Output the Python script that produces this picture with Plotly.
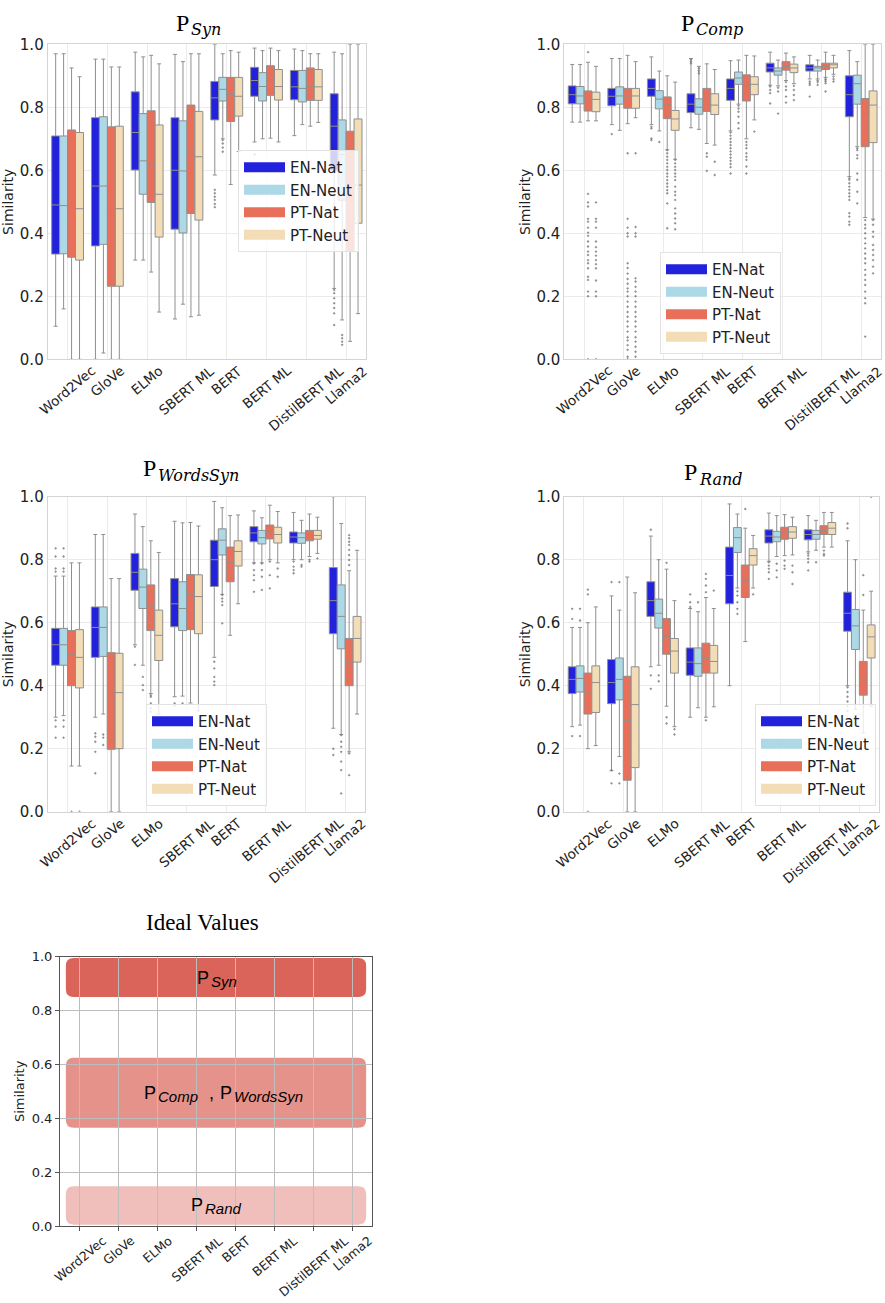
import plotly.graph_objects as go

# ---------------- data ----------------
CATEGORIES = ["Word2Vec", "GloVe", "ELMo", "SBERT ML", "BERT", "BERT ML", "DistilBERT ML", "Llama2"]
SERIES = ["EN-Nat", "EN-Neut", "PT-Nat", "PT-Neut"]
COLORS = ["#2222dd", "#add8e6", "#e8705a", "#f2ddb6"]
Y_TICKS = [0.0, 0.2, 0.4, 0.6, 0.8, 1.0]

# rows = series (EN-Nat, EN-Neut, PT-Nat, PT-Neut), columns = categories
SYN_LOW = [[0.105, 0.0, 0.315, 0.128, 0.585, 0.69, 0.71, 0.225],
           [0.16, 0.02, 0.315, 0.175, 0.70, 0.70, 0.745, 0.125],
           [0.0, 0.0, 0.277, 0.135, 0.555, 0.702, 0.74, 0.057],
           [0.0, 0.0, 0.15, 0.14, 0.66, 0.69, 0.752, 0.145]]
SYN_Q1 = [[0.334, 0.36, 0.601, 0.413, 0.76, 0.835, 0.824, 0.60],
          [0.335, 0.365, 0.524, 0.401, 0.82, 0.82, 0.817, 0.505],
          [0.324, 0.232, 0.498, 0.463, 0.755, 0.838, 0.822, 0.343],
          [0.315, 0.232, 0.388, 0.442, 0.772, 0.823, 0.822, 0.432]]
SYN_MED = [[0.49, 0.55, 0.72, 0.60, 0.83, 0.885, 0.865, 0.74],
           [0.488, 0.55, 0.63, 0.598, 0.857, 0.866, 0.86, 0.65],
           [0.495, 0.457, 0.62, 0.665, 0.84, 0.882, 0.865, 0.55],
           [0.478, 0.478, 0.524, 0.643, 0.835, 0.866, 0.865, 0.553]]
SYN_Q3 = [[0.709, 0.767, 0.849, 0.767, 0.882, 0.927, 0.917, 0.843],
          [0.709, 0.77, 0.78, 0.757, 0.895, 0.91, 0.917, 0.76],
          [0.728, 0.738, 0.789, 0.807, 0.895, 0.932, 0.925, 0.724],
          [0.72, 0.74, 0.744, 0.787, 0.895, 0.92, 0.92, 0.763]]
SYN_HIGH = [[0.97, 0.953, 0.975, 0.968, 1.0, 0.988, 0.985, 0.975],
            [0.97, 0.953, 0.96, 0.945, 0.97, 0.98, 0.98, 0.97],
            [0.925, 0.928, 0.965, 0.97, 0.98, 0.988, 0.97, 1.0],
            [0.897, 0.928, 0.938, 0.97, 0.975, 0.98, 0.97, 1.0]]
# (category index, series index, outlier values)
SYN_OUT = [(4, 0, [0.538, 0.527, 0.516, 0.506, 0.493, 0.483]),
           (4, 1, [0.696, 0.685, 0.672, 0.659]),
           (5, 0, [0.65]),
           (7, 0, [0.22, 0.21, 0.194, 0.178, 0.163, 0.146, 0.109]),
           (7, 1, [0.077, 0.067, 0.056, 0.046])]

COMP_LOW = [[0.753, 0.745, 0.745, 0.735, 0.725, 0.87, 0.89, 0.58],
            [0.753, 0.727, 0.725, 0.73, 0.81, 0.868, 0.89, 0.675],
            [0.757, 0.748, 0.665, 0.685, 0.70, 0.885, 0.895, 0.45],
            [0.757, 0.767, 0.635, 0.68, 0.76, 0.875, 0.905, 0.445]]
COMP_Q1 = [[0.811, 0.805, 0.835, 0.783, 0.822, 0.912, 0.915, 0.77],
           [0.811, 0.81, 0.795, 0.778, 0.873, 0.902, 0.915, 0.81],
           [0.788, 0.797, 0.764, 0.787, 0.82, 0.918, 0.92, 0.675],
           [0.786, 0.797, 0.727, 0.777, 0.84, 0.91, 0.925, 0.688]]
COMP_MED = [[0.84, 0.835, 0.86, 0.81, 0.86, 0.925, 0.925, 0.84],
            [0.836, 0.836, 0.826, 0.80, 0.893, 0.915, 0.925, 0.875],
            [0.825, 0.836, 0.807, 0.825, 0.87, 0.93, 0.93, 0.78],
            [0.825, 0.836, 0.763, 0.807, 0.873, 0.925, 0.935, 0.807]]
COMP_Q3 = [[0.868, 0.86, 0.89, 0.843, 0.89, 0.94, 0.935, 0.90],
           [0.866, 0.865, 0.853, 0.827, 0.912, 0.925, 0.93, 0.902],
           [0.852, 0.86, 0.833, 0.86, 0.903, 0.945, 0.94, 0.828],
           [0.848, 0.86, 0.79, 0.843, 0.897, 0.937, 0.94, 0.852]]
COMP_HIGH = [[0.936, 0.955, 0.96, 0.955, 0.948, 0.975, 0.965, 0.98],
             [0.936, 0.955, 0.915, 0.93, 0.95, 0.95, 0.95, 0.945],
             [0.943, 0.965, 0.90, 0.938, 0.965, 0.972, 0.975, 1.0],
             [0.93, 0.945, 0.88, 0.92, 0.963, 0.96, 0.965, 1.0]]
COMP_OUT = [(0, 2, [0.975, 0.525, 0.498, 0.485, 0.446, 0.437, 0.418, 0.402, 0.392, 0.374, 0.358, 0.342,
                    0.331, 0.315, 0.305, 0.289, 0.262, 0.252, 0.215, 0.2, 0.0]),
            (0, 3, [0.498, 0.446, 0.437, 0.418, 0.374, 0.356, 0.342, 0.329, 0.315, 0.302, 0.289, 0.25,
                    0.215, 0.2, 0.0]),
            (1, 0, [0.715]),
            (1, 2, [0.654, 0.446, 0.418, 0.40, 0.39, 0.305, 0.29, 0.272, 0.255, 0.24, 0.225, 0.215, 0.2,
                    0.183, 0.167, 0.15, 0.135, 0.12, 0.104, 0.088, 0.07, 0.06, 0.045, 0.03, 0.008, 0.0]),
            (1, 3, [0.654, 0.42, 0.40, 0.39, 0.257, 0.247, 0.23, 0.215, 0.2, 0.183, 0.167, 0.15, 0.135,
                    0.12, 0.104, 0.088, 0.07, 0.056, 0.04, 0.024, 0.008]),
            (2, 0, [0.738, 0.733, 0.701, 0.696]),
            (2, 1, [0.69]),
            (2, 2, [0.664, 0.654, 0.643, 0.633, 0.622, 0.611, 0.601, 0.59, 0.58, 0.569, 0.558, 0.548,
                    0.537, 0.527, 0.495, 0.416]),
            (2, 3, [0.633, 0.622, 0.611, 0.601, 0.59, 0.58, 0.569, 0.548, 0.532, 0.521, 0.506, 0.479,
                    0.463, 0.447, 0.432, 0.413]),
            (3, 0, [0.952, 0.946, 0.94]),
            (3, 1, [0.924, 0.916, 0.908]),
            (3, 2, [0.654, 0.643, 0.598]),
            (3, 3, [0.627, 0.585]),
            (4, 0, [0.72, 0.71, 0.70, 0.69, 0.68, 0.67, 0.66, 0.65, 0.64, 0.63, 0.62, 0.61, 0.59]),
            (4, 1, [0.805, 0.796, 0.786, 0.77, 0.75, 0.733]),
            (4, 2, [0.69, 0.68, 0.67, 0.654, 0.643, 0.633, 0.612, 0.59]),
            (4, 3, [0.723]),
            (5, 0, [0.866, 0.855, 0.845, 0.812]),
            (5, 1, [0.862, 0.85, 0.78]),
            (5, 2, [0.88, 0.866, 0.855, 0.834, 0.815]),
            (5, 3, [0.868, 0.855, 0.839, 0.823]),
            (6, 0, [0.882, 0.876, 0.871, 0.834]),
            (6, 1, [0.885, 0.88, 0.871]),
            (6, 2, [0.89, 0.887, 0.882, 0.876, 0.85]),
            (6, 3, [0.898, 0.89, 0.882]),
            (7, 0, [0.575, 0.57, 0.559, 0.548, 0.538, 0.527, 0.517, 0.506, 0.464, 0.453, 0.437, 0.427]),
            (7, 1, [0.67, 0.664, 0.648, 0.638, 0.59, 0.57, 0.532, 0.495]),
            (7, 2, [0.442, 0.427, 0.416, 0.4, 0.384, 0.368, 0.352, 0.336, 0.32, 0.305, 0.284, 0.268,
                    0.252, 0.236, 0.215, 0.194, 0.178, 0.072]),
            (7, 3, [0.442, 0.427, 0.405, 0.389, 0.363, 0.347, 0.331, 0.315, 0.294, 0.273])]

WSYN_LOW = [[0.30, 0.30, 0.53, 0.365, 0.49, 0.79, 0.80, 0.265],
            [0.305, 0.31, 0.465, 0.367, 0.69, 0.79, 0.80, 0.245],
            [0.145, 0.0, 0.375, 0.345, 0.56, 0.80, 0.81, 0.19],
            [0.145, 0.0, 0.31, 0.32, 0.66, 0.79, 0.82, 0.31]]
WSYN_Q1 = [[0.465, 0.49, 0.703, 0.587, 0.715, 0.857, 0.853, 0.565],
           [0.465, 0.493, 0.645, 0.575, 0.815, 0.85, 0.852, 0.517],
           [0.40, 0.198, 0.575, 0.578, 0.73, 0.866, 0.86, 0.40],
           [0.393, 0.20, 0.48, 0.565, 0.78, 0.853, 0.865, 0.475]]
WSYN_MED = [[0.53, 0.585, 0.76, 0.66, 0.80, 0.885, 0.872, 0.67],
            [0.53, 0.585, 0.713, 0.645, 0.862, 0.87, 0.87, 0.62],
            [0.50, 0.376, 0.65, 0.69, 0.79, 0.888, 0.877, 0.475],
            [0.49, 0.378, 0.56, 0.683, 0.826, 0.88, 0.877, 0.55]]
WSYN_Q3 = [[0.582, 0.65, 0.82, 0.74, 0.862, 0.905, 0.888, 0.775],
           [0.582, 0.65, 0.77, 0.73, 0.898, 0.893, 0.885, 0.72],
           [0.575, 0.505, 0.72, 0.753, 0.84, 0.91, 0.893, 0.55],
           [0.578, 0.503, 0.64, 0.752, 0.86, 0.903, 0.893, 0.62]]
WSYN_HIGH = [[0.748, 0.88, 0.945, 0.922, 0.985, 0.955, 0.95, 1.0],
             [0.748, 0.88, 0.905, 0.917, 0.965, 0.933, 0.925, 0.915],
             [0.79, 0.74, 0.86, 0.918, 0.94, 0.973, 0.945, 0.765],
             [0.79, 0.74, 0.823, 0.907, 0.942, 0.953, 0.935, 0.83]]
WSYN_OUT = [(0, 0, [0.836, 0.81, 0.772, 0.762, 0.29, 0.27, 0.235]),
            (0, 1, [0.836, 0.81, 0.772, 0.762, 0.29, 0.27, 0.235]),
            (0, 2, [0.0]),
            (0, 3, [0.0]),
            (1, 0, [0.249, 0.238, 0.222, 0.19, 0.122]),
            (1, 1, [0.245, 0.235, 0.212]),
            (2, 0, [0.524, 0.466]),
            (2, 1, [0.428, 0.402, 0.386]),
            (2, 2, [0.37, 0.365, 0.344, 0.328, 0.317]),
            (3, 0, [0.344, 0.336]),
            (3, 1, [0.344]),
            (4, 0, [0.476, 0.455, 0.428, 0.413, 0.402]),
            (4, 1, [0.688, 0.677, 0.667, 0.656, 0.598]),
            (5, 0, [0.788, 0.767, 0.751, 0.735, 0.698]),
            (5, 1, [0.788, 0.767, 0.746, 0.704]),
            (5, 2, [0.794, 0.751, 0.709]),
            (5, 3, [0.772, 0.746]),
            (6, 0, [0.794, 0.778, 0.767, 0.757]),
            (6, 1, [0.783, 0.778]),
            (6, 2, [0.80, 0.794]),
            (6, 3, [0.804]),
            (7, 0, [0.20, 0.18]),
            (7, 1, [0.243, 0.222, 0.206, 0.19, 0.159, 0.132, 0.058]),
            (7, 2, [0.878, 0.868, 0.857, 0.847, 0.831, 0.815, 0.799, 0.783, 0.185, 0.116])]

RAND_LOW = [[0.27, 0.13, 0.46, 0.30, 0.40, 0.795, 0.825, 0.40],
            [0.275, 0.175, 0.465, 0.33, 0.71, 0.81, 0.83, 0.325],
            [0.20, 0.0, 0.335, 0.30, 0.54, 0.813, 0.84, 0.25],
            [0.21, 0.0, 0.27, 0.333, 0.71, 0.815, 0.84, 0.335]]
RAND_Q1 = [[0.375, 0.343, 0.62, 0.433, 0.66, 0.853, 0.863, 0.573],
           [0.38, 0.355, 0.583, 0.43, 0.823, 0.857, 0.865, 0.515],
           [0.31, 0.10, 0.50, 0.44, 0.68, 0.865, 0.88, 0.37],
           [0.315, 0.14, 0.44, 0.44, 0.783, 0.868, 0.88, 0.488]]
RAND_MED = [[0.42, 0.41, 0.67, 0.475, 0.75, 0.875, 0.88, 0.63],
            [0.423, 0.42, 0.63, 0.47, 0.87, 0.872, 0.88, 0.59],
            [0.38, 0.29, 0.557, 0.487, 0.735, 0.885, 0.893, 0.425],
            [0.41, 0.34, 0.51, 0.477, 0.813, 0.888, 0.90, 0.555]]
RAND_Q3 = [[0.46, 0.483, 0.73, 0.52, 0.84, 0.895, 0.895, 0.697],
           [0.463, 0.488, 0.675, 0.52, 0.902, 0.89, 0.893, 0.642],
           [0.44, 0.43, 0.613, 0.535, 0.783, 0.903, 0.908, 0.477],
           [0.463, 0.46, 0.55, 0.528, 0.835, 0.905, 0.918, 0.593]]
RAND_HIGH = [[0.585, 0.685, 0.875, 0.645, 0.977, 0.948, 0.94, 0.86],
             [0.585, 0.64, 0.80, 0.635, 0.945, 0.94, 0.925, 0.80],
             [0.60, 0.745, 0.77, 0.68, 0.90, 0.943, 0.95, 0.64],
             [0.65, 0.695, 0.67, 0.645, 0.877, 0.935, 0.95, 0.70]]
RAND_OUT = [(0, 0, [0.644, 0.612, 0.24]),
            (0, 1, [0.644, 0.607, 0.24]),
            (0, 2, [0.705, 0.69, 0.0]),
            (1, 0, [0.729, 0.132, 0.09]),
            (1, 1, [0.729, 0.121, 0.09]),
            (2, 0, [0.895, 0.433, 0.39]),
            (2, 1, [0.433, 0.414]),
            (2, 2, [0.79, 0.30, 0.28]),
            (2, 3, [0.262, 0.245]),
            (3, 0, [0.69, 0.665, 0.65]),
            (3, 1, [0.665]),
            (3, 2, [0.755, 0.739, 0.718, 0.697, 0.29]),
            (3, 3, [0.702]),
            (4, 1, [0.70, 0.686, 0.665, 0.644, 0.628]),
            (4, 2, [0.961]),
            (4, 3, [0.69]),
            (5, 0, [0.792, 0.781, 0.771, 0.76, 0.739]),
            (5, 1, [0.787, 0.766, 0.744]),
            (5, 2, [0.797, 0.781, 0.771]),
            (5, 3, [0.781, 0.76, 0.723]),
            (6, 0, [0.82, 0.813, 0.803, 0.792, 0.766]),
            (6, 1, [0.792]),
            (6, 2, [0.829, 0.818, 0.813]),
            (7, 0, [0.915, 0.90, 0.395, 0.38, 0.365, 0.35, 0.335, 0.32]),
            (7, 2, [0.751, 0.688]),
            (7, 3, [1.0])]

PANEL_SUBSCRIPTS = ["Syn", "Comp", "WordsSyn", "Rand"]
IDEAL_SUBSCRIPTS = [["Syn"], ["Comp", "WordsSyn"], ["Rand"]]
IDEAL_LOW = [0.85, 0.365, 0.005]
IDEAL_HIGH = [0.995, 0.625, 0.148]
IDEAL_ALPHA = [0.85, 0.6, 0.35]

# ---------------- figure ----------------
W, H = 885, 1303
OFFSETS = [-0.3, -0.1, 0.1, 0.3]
BOX_W = 0.2
SANS = "DejaVu Sans"
SERIF = "Liberation Serif"


def px_x(p):
    return p / W


def px_y(p):
    return 1 - p / H


PANELS = [
    dict(low=SYN_LOW, q1=SYN_Q1, med=SYN_MED, q3=SYN_Q3, high=SYN_HIGH,
         out=SYN_OUT, n="", leg="legend", dx=(47.7, 366), dy=(44.3, 359.3), t=(190, 22.5),
         lg=(238, 150)),
    dict(low=COMP_LOW, q1=COMP_Q1, med=COMP_MED, q3=COMP_Q3, high=COMP_HIGH,
         out=COMP_OUT, n="2", leg="legend2", dx=(564.3, 881), dy=(44.3, 359.3), t=(695, 22.5),
         lg=(660, 252)),
    dict(low=WSYN_LOW, q1=WSYN_Q1, med=WSYN_MED, q3=WSYN_Q3,
         high=WSYN_HIGH, out=WSYN_OUT, n="3", leg="legend3", dx=(47.7, 365), dy=(496.7, 811.7),
         t=(157, 468), lg=(146, 704)),
    dict(low=RAND_LOW, q1=RAND_Q1, med=RAND_MED, q3=RAND_Q3,
         high=RAND_HIGH, out=RAND_OUT, n="4", leg="legend4", dx=(564.3, 879), dy=(496.7, 811.7),
         t=(698, 472), lg=(755, 704)),
]

fig = go.Figure()
layout = dict(width=W, height=H, margin=dict(l=0, r=0, t=0, b=0, autoexpand=False),
              paper_bgcolor="white", plot_bgcolor="white", boxmode="overlay",
              font=dict(family=SANS, color="#222222"), showlegend=True)
annotations = []
shapes = []


def category_labels(xa, ya, size, shift, angle):
    for i, name in enumerate(CATEGORIES):
        annotations.append(dict(text=name, x=i, y=0, xref=xa, yref=ya + " domain", showarrow=False,
                                textangle=angle, xanchor="center", yanchor="top", yshift=shift,
                                borderpad=0, font=dict(family=SANS, size=size, color="#222222")))


def p_with_sub(x_join, y, yref, sub, p_font, sub_font, sub_dy):
    """'P' ending at x_join (paper), italic subscript starting there."""
    annotations.append(dict(text="P", x=x_join, y=y, xref="paper", yref=yref, showarrow=False,
                            xanchor="right", yanchor="middle", borderpad=0, font=p_font))
    annotations.append(dict(text="<i>%s</i>" % sub, x=x_join, y=y, xref="paper", yref=yref,
                            showarrow=False, xanchor="left", yanchor="middle", borderpad=0,
                            yshift=-sub_dy, font=sub_font))


for k, p in enumerate(PANELS):
    n = p["n"]
    xa, ya = "x" + n, "y" + n
    for s in range(4):
        fig.add_trace(go.Box(
            x=[c + OFFSETS[s] for c in range(len(CATEGORIES))],
            q1=p["q1"][s], median=p["med"][s], q3=p["q3"][s],
            lowerfence=p["low"][s], upperfence=p["high"][s],
            orientation="v", width=BOX_W, whiskerwidth=0.5, boxpoints=False,
            fillcolor=COLORS[s], line=dict(color="#8f8f8f", width=1),
            showlegend=False, hoverinfo="skip", xaxis=xa, yaxis=ya))
    ox, oy = [], []
    for c, s, vals in p["out"]:
        for v in vals:
            ox.append(c + OFFSETS[s])
            oy.append(v)
    fig.add_trace(go.Scatter(x=ox, y=oy, mode="markers",
                             marker=dict(size=2.2, color="rgba(120,120,120,0.8)", symbol="diamond"),
                             showlegend=False, hoverinfo="skip", xaxis=xa, yaxis=ya, cliponaxis=True))
    for s in range(4):
        fig.add_trace(go.Scatter(x=[None], y=[None], mode="lines", name=SERIES[s],
                                 line=dict(color=COLORS[s], width=10), legend=p["leg"],
                                 xaxis=xa, yaxis=ya, hoverinfo="skip"))
    layout["xaxis" + n] = dict(domain=[px_x(p["dx"][0]), px_x(p["dx"][1])], anchor=ya, automargin=False,
                               range=[-0.5, 7.5], tickmode="array", tickvals=list(range(len(CATEGORIES))),
                               showticklabels=False,
                               showgrid=True, gridcolor="#ebebeb", gridwidth=1, zeroline=False,
                               showline=True, mirror=True, linecolor="#d4d4d4", ticks="")
    layout["yaxis" + n] = dict(domain=[px_y(p["dy"][1]), px_y(p["dy"][0])], anchor=xa, automargin=False,
                               range=[0, 1.0], tickmode="array", tickvals=Y_TICKS,
                               ticktext=["%.1f" % v for v in Y_TICKS], tickfont=dict(size=15, family=SANS),
                               showgrid=True, gridcolor="#ebebeb", zeroline=False,
                               showline=True, mirror=True, linecolor="#d4d4d4", ticks="",
                               title=dict(text="Similarity", font=dict(size=14, family=SANS), standoff=2))
    layout[p["leg"]] = dict(x=px_x(p["lg"][0]), y=px_y(p["lg"][1]), xanchor="left", yanchor="top",
                            bgcolor="rgba(255,255,255,0.8)", bordercolor="#e2e2e2", borderwidth=1,
                            font=dict(size=15, family=SANS, color="#222222"), itemwidth=41,
                            tracegroupgap=0)
    p_with_sub(px_x(p["t"][0]), px_y(p["t"][1]), "paper", PANEL_SUBSCRIPTS[k],
               dict(family=SERIF, size=24, color="black"),
               dict(family="DejaVu Serif", size=16, color="black"), 7)
    category_labels(xa, ya, 13.5, -2, -40)

# ---- Ideal values panel ----
fig.add_trace(go.Scatter(x=[None], y=[None], xaxis="x5", yaxis="y5", showlegend=False, hoverinfo="skip"))
layout["xaxis5"] = dict(domain=[px_x(60), px_x(372)], anchor="y5", automargin=False, range=[-0.5, 7.5],
                        tickmode="array", tickvals=list(range(len(CATEGORIES))), showticklabels=False,
                        showgrid=True, gridcolor="#bdbdbd",
                        zeroline=False, showline=True, mirror=True, linecolor="#555555",
                        ticks="outside", ticklen=4, tickcolor="#555555")
layout["yaxis5"] = dict(domain=[px_y(1226), px_y(956.7)], anchor="x5", automargin=False, range=[0, 1.0],
                        tickmode="array", tickvals=Y_TICKS, ticktext=["%.1f" % v for v in Y_TICKS],
                        tickfont=dict(size=13, family=SANS), showgrid=True, gridcolor="#bdbdbd",
                        zeroline=False, showline=True, mirror=True, linecolor="#555555",
                        ticks="outside", ticklen=4, tickcolor="#555555",
                        title=dict(text="Similarity", font=dict(size=13, family=SANS), standoff=4))
category_labels("x5", "y5", 12.5, -6, -40)
X0, X1 = -0.35, 7.35
RX, RY = 0.2, 0.03
# pixel x where each "P" ends inside the ideal bands
IDEAL_P_END = [[210], [156.7, 233.3], [204]]
BAND_P_FONT = dict(family="Liberation Sans", size=18, color="black")
BAND_SUB_FONT = dict(family="Liberation Sans", size=15, color="black")
for subs, ends, lo, hi, a in zip(IDEAL_SUBSCRIPTS, IDEAL_P_END, IDEAL_LOW, IDEAL_HIGH, IDEAL_ALPHA):
    path = (f"M {X0+RX},{lo} L {X1-RX},{lo} Q {X1},{lo} {X1},{lo+RY} L {X1},{hi-RY} "
            f"Q {X1},{hi} {X1-RX},{hi} L {X0+RX},{hi} Q {X0},{hi} {X0},{hi-RY} "
            f"L {X0},{lo+RY} Q {X0},{lo} {X0+RX},{lo} Z")
    shapes.append(dict(type="path", path=path, xref="x5", yref="y5", layer="below",
                       fillcolor=f"rgba(212,73,61,{a})", line=dict(width=0)))
    mid = (lo + hi) / 2
    for sub, e in zip(subs, ends):
        p_with_sub(px_x(e), mid, "y5", sub, BAND_P_FONT, BAND_SUB_FONT, 3.5)
    if len(subs) > 1:
        annotations.append(dict(text=",", x=px_x(211), y=mid, xref="paper", yref="y5", showarrow=False,
                                xanchor="center", yanchor="middle", borderpad=0, font=BAND_P_FONT))
annotations.append(dict(text="Ideal Values", x=px_x(202), y=px_y(922), xref="paper", yref="paper",
                        showarrow=False, xanchor="center", yanchor="middle",
                        font=dict(family=SERIF, size=23, color="black")))

layout["annotations"] = annotations
layout["shapes"] = shapes
fig.update_layout(**layout)
fig.write_html("out.html", post_script="document.body.style.margin='0';",
               config={"displayModeBar": False})
